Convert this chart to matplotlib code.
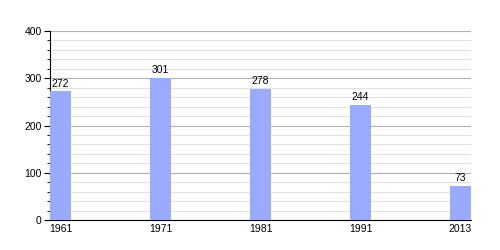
import matplotlib
matplotlib.use("Agg")
import matplotlib.pyplot as plt
from matplotlib.ticker import MultipleLocator

years = ["1961", "1971", "1981", "1991", "2013"]
population = [272, 301, 278, 244, 73]

plt.rcParams['font.family'] = ['Liberation Sans', 'DejaVu Sans']
fig = plt.figure(figsize=(5, 2.5), dpi=100)
ax = fig.add_axes([0.1, 0.12, 0.842, 0.756])
w = 0.21
x = list(range(len(years)))
ax.bar(x, population, width=w, align='edge', color='#99aaff', zorder=3)
for xi, v in zip(x, population):
    ax.text(xi + w / 2, v + 6, str(v), ha='center', va='bottom', fontsize=7.5, zorder=4)
ax.set_xlim(0, len(years) - 1 + w)
ax.set_ylim(0, 400)
ax.set_xticks([xi + w / 2 for xi in x])
ax.set_xticklabels(years)
ax.yaxis.set_major_locator(MultipleLocator(100))
ax.yaxis.set_minor_locator(MultipleLocator(20))
ax.grid(axis='y', which='major', color='#b0b0b0', linewidth=0.8, zorder=0)
ax.grid(axis='y', which='minor', color='#e2e2e2', linewidth=0.8, zorder=0)
ax.spines['top'].set_visible(False)
ax.spines['right'].set_visible(False)
ax.tick_params(axis='x', length=0, labelsize=7.5, pad=3)
ax.tick_params(axis='y', which='major', length=4, labelsize=7.5, pad=2)
ax.tick_params(axis='y', which='minor', length=2)
fig.savefig("out.png", dpi=100)
